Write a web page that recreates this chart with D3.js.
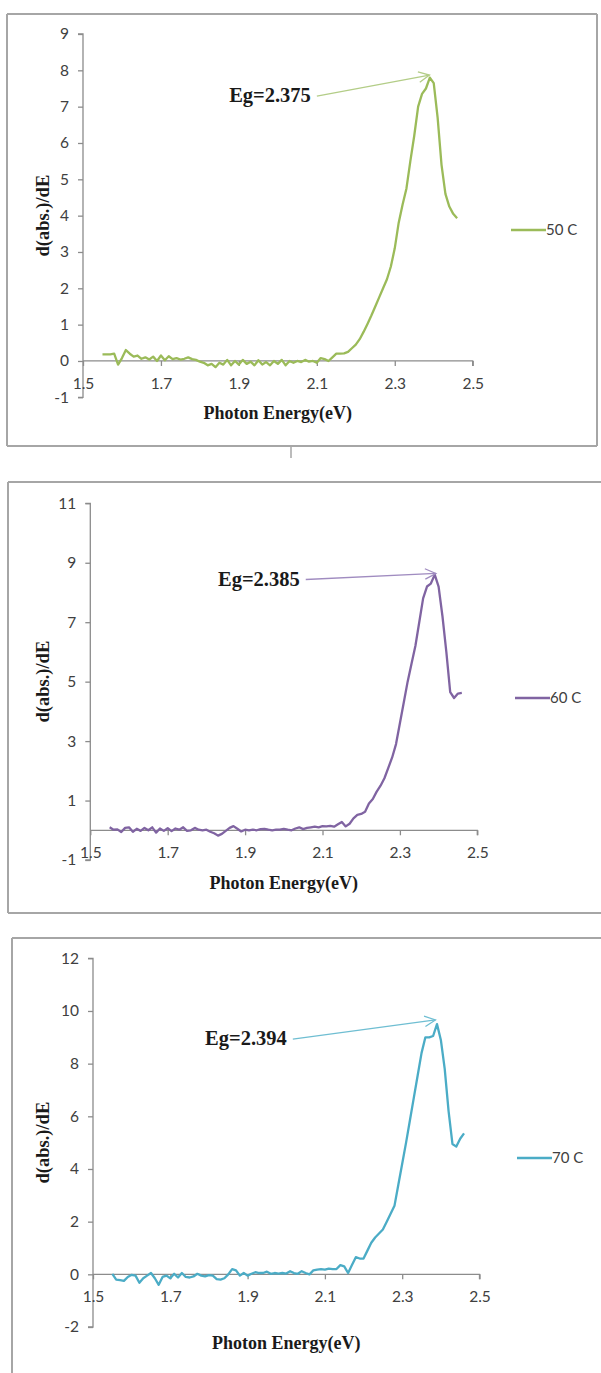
<!DOCTYPE html>
<html><head><meta charset="utf-8">
<script src="https://cdn.jsdelivr.net/npm/d3@7"></script>
<style>
html,body{margin:0;padding:0;background:#fff;}
svg{display:block;}
</style></head>
<body>
<svg id="chart" width="601" height="1373"></svg>
<script>
// ---- Data ----
const energies = [1.55,1.56,1.57,1.58,1.59,1.60,1.61,1.62,1.63,1.64,1.65,1.66,1.67,1.68,1.69,1.70,1.71,1.72,1.73,1.74,1.75,1.76,1.77,1.78,1.79,1.80,1.81,1.82,1.83,1.84,1.85,1.86,1.87,1.88,1.89,1.90,1.91,1.92,1.93,1.94,1.95,1.96,1.97,1.98,1.99,2.00,2.01,2.02,2.03,2.04,2.05,2.06,2.07,2.08,2.09,2.10,2.11,2.12,2.13,2.14,2.15,2.16,2.17,2.18,2.19,2.20,2.21,2.22,2.23,2.24,2.25,2.26,2.27,2.28,2.29,2.30,2.31,2.32,2.33,2.34,2.35,2.36,2.37,2.38,2.39,2.40,2.41,2.42,2.43,2.44,2.45,2.46];

const values50 = [0.18,0.18,0.18,0.2,-0.1,0.08,0.3,0.2,0.12,0.15,0.06,0.1,0.04,0.12,0.0,0.15,0.02,0.13,0.05,0.08,0.04,0.06,0.1,0.05,0.03,-0.02,-0.05,-0.12,-0.08,-0.17,-0.05,-0.1,0.03,-0.12,0.0,-0.1,0.03,-0.08,-0.02,-0.12,0.02,-0.1,-0.03,-0.12,0.0,-0.08,0.03,-0.12,0.0,-0.05,0.0,-0.03,0.03,-0.02,0.0,-0.05,0.08,0.05,0.0,0.1,0.2,0.2,0.21,0.25,0.35,0.45,0.6,0.8,1.02,1.25,1.5,1.75,2.0,2.25,2.6,3.1,3.8,4.3,4.75,5.5,6.2,7.0,7.35,7.5,7.8,7.65,6.7,5.4,4.6,4.25,4.05,3.93];

const values60 = [0.1,0.02,0.03,-0.06,0.08,0.1,-0.05,0.05,-0.02,0.08,0.0,0.1,-0.08,0.06,-0.02,0.07,-0.03,0.06,0.02,0.1,-0.02,0.0,0.08,0.02,0.0,0.02,-0.05,-0.1,-0.18,-0.12,-0.02,0.08,0.14,0.05,-0.04,0.02,0.0,0.02,0.0,0.04,0.05,0.02,0.0,0.02,0.02,0.05,0.02,0.0,0.06,0.1,0.04,0.08,0.1,0.12,0.1,0.14,0.13,0.15,0.12,0.2,0.28,0.13,0.22,0.4,0.52,0.55,0.62,0.9,1.05,1.3,1.5,1.75,2.1,2.45,2.9,3.6,4.3,5.0,5.6,6.2,7.0,7.8,8.2,8.3,8.6,8.2,7.2,6.0,4.65,4.45,4.6,4.62];

const values70 = [0.02,-0.2,-0.22,-0.25,-0.1,-0.02,-0.05,-0.32,-0.15,-0.05,0.05,-0.15,-0.4,-0.1,-0.05,-0.15,0.02,-0.12,0.05,-0.1,-0.12,-0.08,0.02,-0.05,-0.08,-0.03,-0.05,-0.18,-0.2,-0.15,0.0,0.2,0.15,-0.05,0.05,-0.05,0.02,0.08,0.05,0.05,0.1,0.02,0.05,0.03,0.05,0.03,0.12,0.05,0.02,0.12,0.05,0.0,0.15,0.18,0.2,0.18,0.22,0.2,0.2,0.35,0.3,0.05,0.35,0.65,0.6,0.6,0.9,1.2,1.4,1.55,1.7,2.0,2.3,2.6,3.4,4.2,5.0,5.85,6.7,7.55,8.4,9.0,9.0,9.05,9.5,8.9,7.8,6.2,4.95,4.85,5.15,5.35];

const xTicks = [1.5,1.7,1.9,2.1,2.3,2.5];
const yTicks50 = [-1,0,1,2,3,4,5,6,7,8,9];
const yTicks60 = [-1,1,3,5,7,9,11];
const yTicks70 = [-2,0,2,4,6,8,10,12];
const seriesNames = ["50 C","60 C","70 C"];
const seriesColors = ["#9bbb59","#8064a2","#4bacc6"];
const arrowColors = ["#b3cd87","#a08cc0","#6fbed2"];
const egLabels = ["Eg=2.375","Eg=2.385","Eg=2.394"];
const egTargetE = [2.389,2.393,2.386];
const egTargetV = [7.87,8.64,9.66];
const egTextE = [1.875,1.83,1.79];
const egTextV = [7.32,8.47,8.97];

// ---- Layout (positions only) ----
const panels = [
  {vals: values50, yTicks: yTicks50, yDom:[-1,9],  xr:[83,472.7],  yr:[397.3,34], titleY:419,
   border:{x1:7,y1:14,x2:597,y2:446,right:true,bottom:true}, legendY:230, legendX:511},
  {vals: values60, yTicks: yTicks60, yDom:[-1,11], xr:[90.3,477.3], yr:[860,503.3], titleY:889,
   border:{x1:8,y1:482,x2:603,y2:913,right:false,bottom:true}, legendY:698, legendX:515},
  {vals: values70, yTicks: yTicks70, yDom:[-2,12], xr:[93,479.5],  yr:[1327,958.3], titleY:1349,
   border:{x1:12,y1:938,x2:603,y2:1380,right:false,bottom:false}, legendY:1158, legendX:517}
];

const svg = d3.select("#chart");
svg.append("rect").attr("width",601).attr("height",1373).attr("fill","#fff");

const tickFont = "Lato, 'Open Sans', sans-serif";
const serifFont = "'Liberation Serif', 'DejaVu Serif', serif";
const fmt = d => String(d);

panels.forEach((p,i)=>{
  const g = svg.append("g");
  const b = p.border;
  const bc = "#a6a6a6";
  g.append("line").attr("x1",b.x1).attr("y1",b.y1).attr("x2",b.x2).attr("y2",b.y1).attr("stroke",bc).attr("stroke-width",2);
  g.append("line").attr("x1",b.x1).attr("y1",b.y1).attr("x2",b.x1).attr("y2",b.y2).attr("stroke",bc).attr("stroke-width",2);
  if(b.right) g.append("line").attr("x1",b.x2).attr("y1",b.y1).attr("x2",b.x2).attr("y2",b.y2).attr("stroke",bc).attr("stroke-width",2);
  if(b.bottom) g.append("line").attr("x1",b.x1).attr("y1",b.y2).attr("x2",b.x2).attr("y2",b.y2).attr("stroke",bc).attr("stroke-width",2);

  const x = d3.scaleLinear().domain([1.5,2.5]).range(p.xr);
  const y = d3.scaleLinear().domain(p.yDom).range(p.yr);

  // y axis
  const yAxis = d3.axisLeft(y).tickValues(p.yTicks).tickFormat(fmt).tickSize(5).tickPadding(9);
  const ya = g.append("g").attr("transform",`translate(${x(1.5)},0)`).call(yAxis);
  ya.select(".domain").attr("stroke","#8c8c8c").attr("stroke-width",1.3).attr("d",`M-5,${y(p.yDom[0])}H0V${y(p.yDom[1])}H-5`);
  ya.selectAll(".tick line").attr("stroke","#8c8c8c").attr("stroke-width",1.3);
  ya.selectAll(".tick text").attr("font-family",tickFont).attr("font-size",15.5).attr("fill","#404040");

  // x axis at y=0
  const xAxis = d3.axisBottom(x).tickValues(xTicks).tickFormat(d3.format(".1f")).tickSize(5).tickPadding(12);
  const xa = g.append("g").attr("transform",`translate(0,${y(0)})`).call(xAxis);
  xa.select(".domain").attr("stroke","#8c8c8c").attr("stroke-width",1.3).attr("d",`M${x(1.5)},0H${x(2.5)}V5`);
  xa.selectAll(".tick line").attr("stroke","#8c8c8c").attr("stroke-width",1.3);
  xa.selectAll(".tick text").attr("font-family",tickFont).attr("font-size",15.5).attr("fill","#404040");

  // axis titles
  g.append("text").attr("x",(p.xr[0]+p.xr[1])/2).attr("y",p.titleY)
    .attr("text-anchor","middle").attr("font-family",serifFont).attr("font-weight","bold")
    .attr("font-size",18).attr("fill","#1a1a1a").text("Photon Energy(eV)");
  const cy = (p.yr[0]+p.yr[1])/2;
  g.append("text").attr("transform",`translate(49,${cy}) rotate(-90)`)
    .attr("text-anchor","middle").attr("font-family",serifFont).attr("font-weight","bold")
    .attr("font-size",18.5).attr("fill","#1a1a1a").text("d(abs.)/dE");

  // series
  const pts = energies.map((e,k)=>({e, v:p.vals[k]}));
  const line = d3.line().x(d=>x(d.e)).y(d=>y(d.v));
  g.append("path").datum(pts).attr("d",line).attr("fill","none")
    .attr("stroke",seriesColors[i]).attr("stroke-width",2.3).attr("stroke-linejoin","round");

  // legend
  g.append("line").attr("x1",p.legendX).attr("x2",p.legendX+35).attr("y1",p.legendY).attr("y2",p.legendY)
    .attr("stroke",seriesColors[i]).attr("stroke-width",2.5);
  g.append("text").attr("x",p.legendX+35).attr("y",p.legendY).attr("dy","0.35em")
    .attr("font-family",tickFont).attr("font-size",15).attr("fill","#404040").text(seriesNames[i]);

  // annotation
  const tx = x(egTextE[i]), ty = y(egTextV[i]);
  const t = g.append("text").attr("x",tx).attr("y",ty).attr("dy","0.35em")
    .attr("font-family",serifFont).attr("font-weight","bold").attr("font-size",20.5).attr("fill","#1a1a1a")
    .text(egLabels[i]);
  const w = t.node().getComputedTextLength();
  const sx = tx + w + 6, sy = ty + 1;
  const ex = x(egTargetE[i]), ey = y(egTargetV[i]);
  g.append("line").attr("x1",sx).attr("y1",sy).attr("x2",ex).attr("y2",ey)
    .attr("stroke",arrowColors[i]).attr("stroke-width",1.3);
  const ang = Math.atan2(ey-sy, ex-sx);
  const hl = 12, ha = 0.45;
  const h1 = [ex - hl*Math.cos(ang-ha), ey - hl*Math.sin(ang-ha)];
  const h2 = [ex - hl*Math.cos(ang+ha), ey - hl*Math.sin(ang+ha)];
  g.append("path").attr("d",`M${h1[0]},${h1[1]}L${ex},${ey}L${h2[0]},${h2[1]}`)
    .attr("fill","none").attr("stroke",arrowColors[i]).attr("stroke-width",1.3);
});

// small frame artifact under the first panel
svg.append("line").attr("x1",291).attr("x2",291).attr("y1",446).attr("y2",458).attr("stroke","#a6a6a6").attr("stroke-width",1.5);
</script>
</body></html>
